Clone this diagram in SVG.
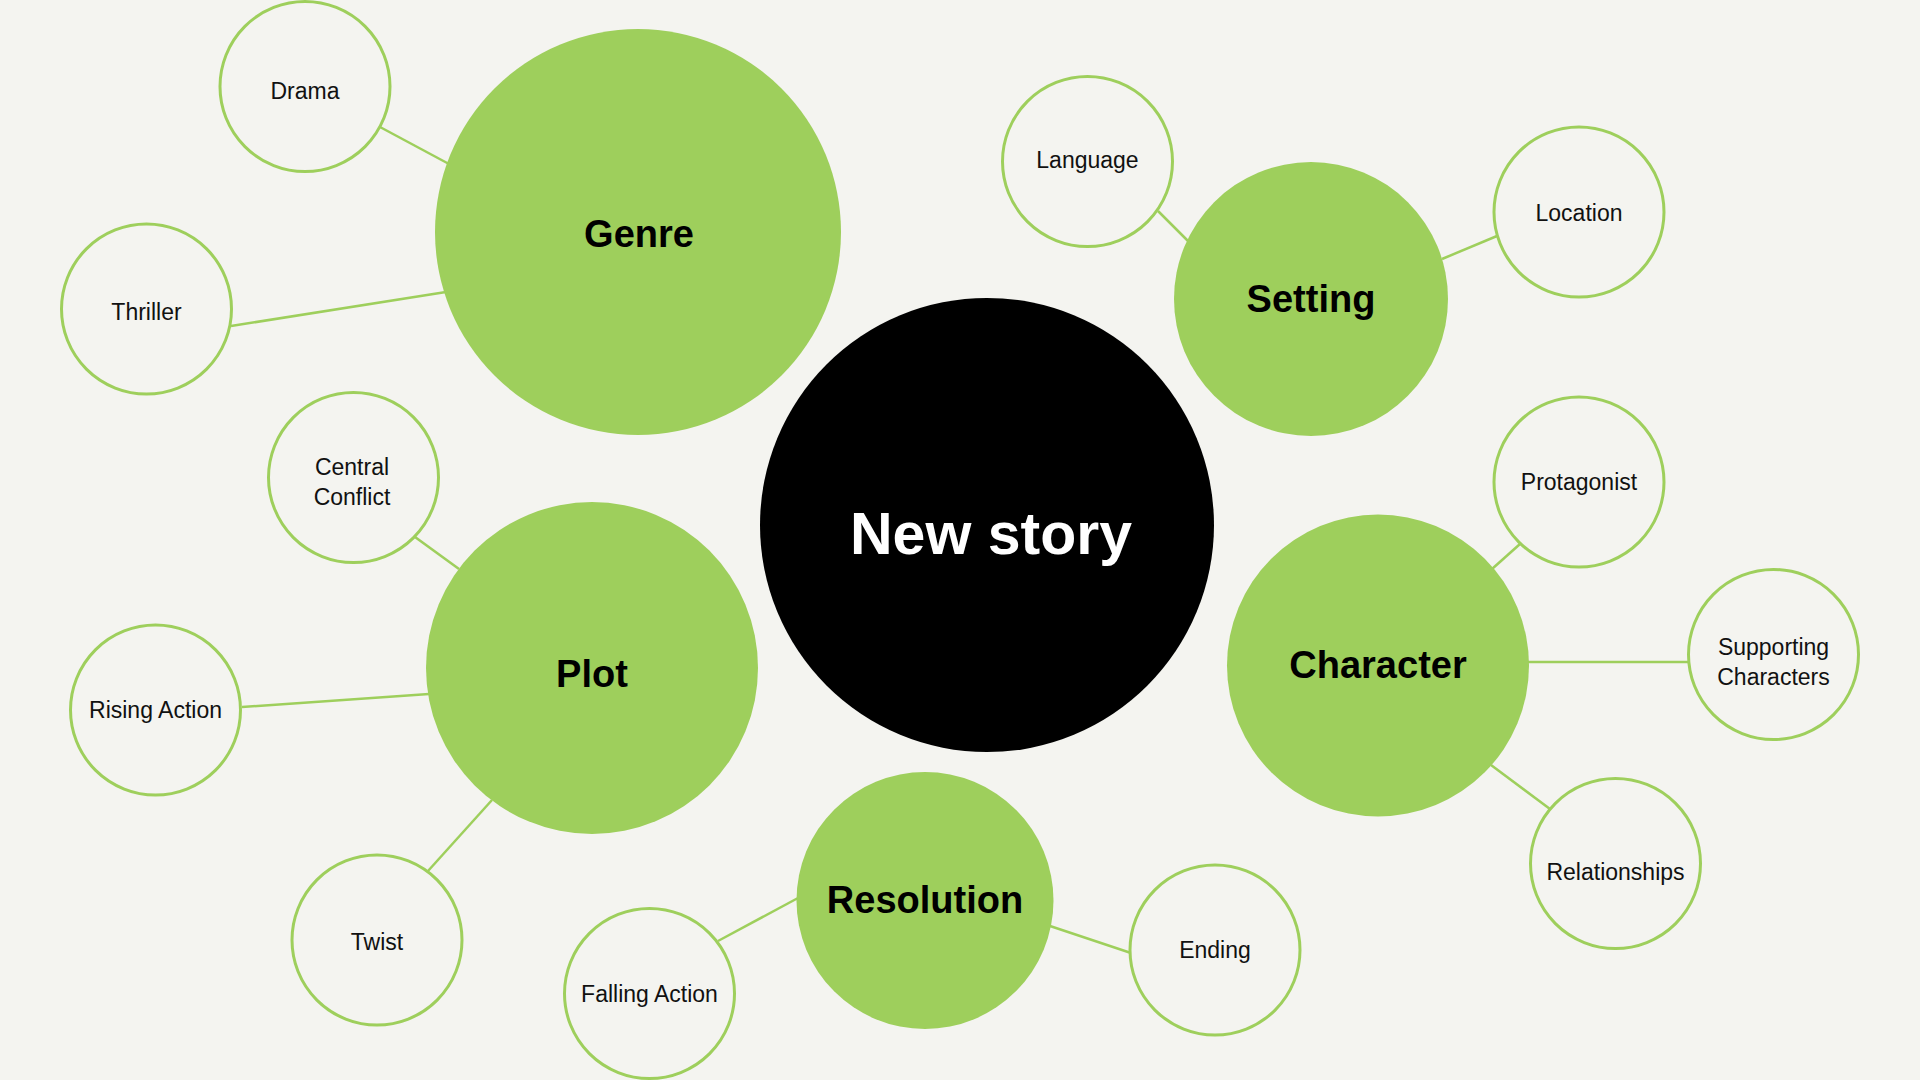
<svg xmlns="http://www.w3.org/2000/svg" width="1920" height="1080" viewBox="0 0 1920 1080">
<style>
.bg{fill:#f4f4f0}
.main{fill:#9ecf5c}
.leaf{fill:#f4f4f0;stroke:#9ecf5c;stroke-width:3}
.conn line{stroke:#9ecf5c;stroke-width:2.5}
.lt{font-family:"Liberation Sans",Arial,sans-serif;font-size:23px;fill:#111;text-anchor:middle}
.mt{font-family:"Liberation Sans",Arial,sans-serif;font-size:38px;font-weight:bold;fill:#000;text-anchor:middle}
.ct{font-family:"Liberation Sans",Arial,sans-serif;font-size:59px;font-weight:bold;fill:#fff;text-anchor:middle}
</style>
<rect class="bg" x="0" y="0" width="1920" height="1080"/>
<g id="connectors" class="conn">
<line x1="380" y1="127" x2="449" y2="164"/>
<line x1="231" y1="326" x2="446" y2="292"/>
<line x1="1158" y1="211" x2="1188" y2="241"/>
<line x1="1442" y1="259" x2="1497" y2="236"/>
<line x1="415" y1="537" x2="459" y2="569"/>
<line x1="242" y1="707" x2="429" y2="694"/>
<line x1="428" y1="871" x2="492" y2="800"/>
<line x1="718" y1="941" x2="798" y2="898"/>
<line x1="1050" y1="926" x2="1131" y2="953"/>
<line x1="1520" y1="544" x2="1492" y2="569"/>
<line x1="1527" y1="662" x2="1689" y2="662"/>
<line x1="1491" y1="765" x2="1550" y2="809"/>
</g>
<g id="new-story">
<circle cx="987" cy="525" r="227" fill="#000"/>
<text class="ct" x="991" y="554">New story</text>
</g>
<g id="genre">
<circle class="main" cx="638" cy="232" r="203"/>
<text class="mt" x="639" y="247">Genre</text>
</g>
<g id="setting">
<circle class="main" cx="1311" cy="299" r="137"/>
<text class="mt" x="1311" y="312">Setting</text>
</g>
<g id="plot">
<circle class="main" cx="592" cy="668" r="166"/>
<text class="mt" x="592" y="687">Plot</text>
</g>
<g id="character">
<circle class="main" cx="1378" cy="665.5" r="151"/>
<text class="mt" x="1378" y="678">Character</text>
</g>
<g id="resolution">
<circle class="main" cx="925" cy="900.5" r="128.5"/>
<text class="mt" x="925" y="913">Resolution</text>
</g>
<g id="drama">
<circle class="leaf" cx="305" cy="86.5" r="85"/>
<text class="lt" x="305" y="99">Drama</text>
</g>
<g id="thriller">
<circle class="leaf" cx="146.5" cy="309" r="85"/>
<text class="lt" x="146.5" y="320">Thriller</text>
</g>
<g id="language">
<circle class="leaf" cx="1087.5" cy="161.5" r="85"/>
<text class="lt" x="1087.5" y="168">Language</text>
</g>
<g id="location">
<circle class="leaf" cx="1579" cy="212" r="85"/>
<text class="lt" x="1579" y="220.5">Location</text>
</g>
<g id="central-conflict">
<circle class="leaf" cx="353.5" cy="477.5" r="85"/>
<text class="lt" x="352" y="475">Central</text>
<text class="lt" x="352" y="505">Conflict</text>
</g>
<g id="rising-action">
<circle class="leaf" cx="155.5" cy="710" r="85"/>
<text class="lt" x="155.5" y="718">Rising Action</text>
</g>
<g id="twist">
<circle class="leaf" cx="377" cy="940" r="85"/>
<text class="lt" x="377" y="949.5">Twist</text>
</g>
<g id="falling-action">
<circle class="leaf" cx="649.5" cy="993.5" r="85"/>
<text class="lt" x="649.5" y="1002">Falling Action</text>
</g>
<g id="ending">
<circle class="leaf" cx="1215" cy="950" r="85"/>
<text class="lt" x="1215" y="958">Ending</text>
</g>
<g id="protagonist">
<circle class="leaf" cx="1579" cy="482" r="85"/>
<text class="lt" x="1579" y="490">Protagonist</text>
</g>
<g id="supporting-characters">
<circle class="leaf" cx="1773.5" cy="654.5" r="85"/>
<text class="lt" x="1773.5" y="655">Supporting</text>
<text class="lt" x="1773.5" y="685">Characters</text>
</g>
<g id="relationships">
<circle class="leaf" cx="1615.5" cy="863.5" r="85"/>
<text class="lt" x="1615.5" y="880">Relationships</text>
</g>
</svg>
